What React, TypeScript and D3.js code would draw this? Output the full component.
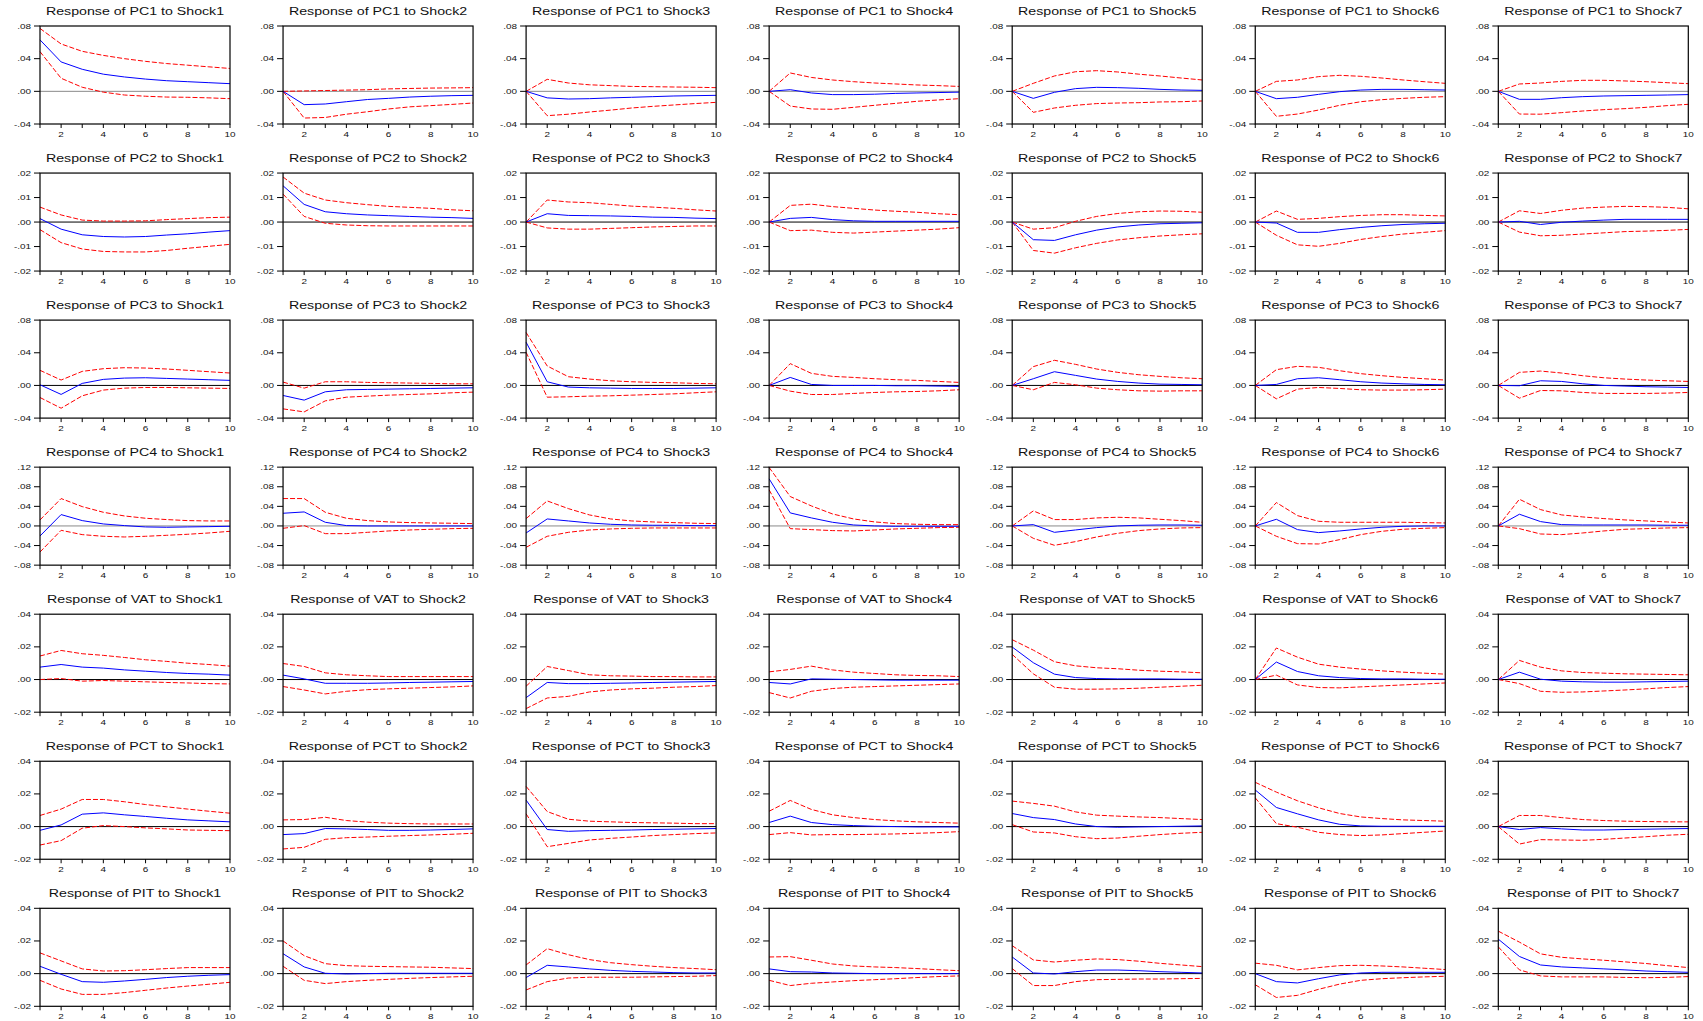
import React from "react";
import * as d3 from "d3";

// impulse responses, 7 shocks x 10 periods each
const PERIODS = [1, 2, 3, 4, 5, 6, 7, 8, 9, 10];
const VARIABLES = ["PC1", "PC2", "PC3", "PC4", "VAT", "PCT", "PIT"];
const SHOCKS = ["Shock1", "Shock2", "Shock3", "Shock4", "Shock5", "Shock6", "Shock7"];

const PC1_IRF = [
  [0.063, 0.036, 0.027, 0.021, 0.0176, 0.015, 0.013, 0.0118, 0.0106, 0.0094],
  [0, -0.0163, -0.0155, -0.0127, -0.01, -0.0086, -0.007, -0.006, -0.0053, -0.0049],
  [0, -0.008, -0.0094, -0.009, -0.008, -0.0073, -0.0065, -0.0057, -0.0053, -0.0049],
  [0, 0.002, -0.002, -0.004, -0.004, -0.0035, -0.0025, -0.002, -0.0015, -0.001],
  [0, -0.0086, -0.0012, 0.0033, 0.0049, 0.0045, 0.0037, 0.0024, 0.0016, 0.0012],
  [0, -0.009, -0.0073, -0.0037, -0.0004, 0.0016, 0.0024, 0.0024, 0.002, 0.0016],
  [0, -0.0098, -0.0098, -0.0078, -0.0065, -0.0057, -0.0053, -0.0049, -0.0045, -0.004],
];
const PC1_UP = [
  [0.077, 0.058, 0.049, 0.044, 0.04, 0.0367, 0.034, 0.032, 0.03, 0.028],
  [0, 0.0005, 0.001, 0.0015, 0.002, 0.003, 0.0035, 0.004, 0.0042, 0.0045],
  [0, 0.0147, 0.0102, 0.008, 0.007, 0.006, 0.0057, 0.0053, 0.005, 0.0045],
  [0, 0.0225, 0.017, 0.0139, 0.0118, 0.0102, 0.009, 0.0078, 0.007, 0.006],
  [0, 0.0098, 0.0188, 0.024, 0.0253, 0.0237, 0.021, 0.0188, 0.0163, 0.0139],
  [0, 0.0122, 0.0139, 0.018, 0.0196, 0.0184, 0.0163, 0.0139, 0.0118, 0.0098],
  [0, 0.009, 0.0102, 0.0122, 0.0135, 0.0135, 0.0127, 0.0118, 0.0106, 0.0094],
];
const PC1_LO = [
  [0.0486, 0.016, 0.005, -0.001, -0.0045, -0.006, -0.007, -0.0073, -0.008, -0.009],
  [0, -0.0327, -0.032, -0.028, -0.025, -0.0216, -0.019, -0.0175, -0.016, -0.0143],
  [0, -0.0298, -0.028, -0.0253, -0.023, -0.0204, -0.0184, -0.0167, -0.015, -0.0135],
  [0, -0.018, -0.0216, -0.022, -0.0196, -0.0171, -0.0147, -0.0122, -0.0106, -0.009],
  [0, -0.0257, -0.0204, -0.0171, -0.015, -0.0143, -0.0139, -0.013, -0.0127, -0.0118],
  [0, -0.0306, -0.0278, -0.0229, -0.0171, -0.0127, -0.0102, -0.0086, -0.0073, -0.0065],
  [0, -0.0278, -0.028, -0.0261, -0.0241, -0.0224, -0.0212, -0.0196, -0.0175, -0.0159],
];

const PC2_IRF = [
  [0.0014, -0.0029, -0.0052, -0.0059, -0.0061, -0.0059, -0.0053, -0.0048, -0.0041, -0.0035],
  [0.0148, 0.0072, 0.0042, 0.0034, 0.0029, 0.0026, 0.0023, 0.002, 0.0018, 0.0015],
  [0, 0.0034, 0.0027, 0.0026, 0.0025, 0.0023, 0.002, 0.0019, 0.0016, 0.0014],
  [0, 0.0015, 0.0019, 0.001, 0.0005, 0.0003, 0.0003, 0.0003, 0.0003, 0.0003],
  [0, -0.0072, -0.0075, -0.0052, -0.0033, -0.002, -0.0012, -0.0007, -0.0005, -0.0003],
  [0, -0.0004, -0.0042, -0.0042, -0.0031, -0.0022, -0.0015, -0.001, -0.0007, -0.0005],
  [0, 0.0003, -0.001, -0.0001, 0.0004, 0.0008, 0.0011, 0.0011, 0.0011, 0.0011],
];
const PC2_UP = [
  [0.0061, 0.0029, 0.0008, 0.0004, 0.0004, 0.0005, 0.001, 0.0014, 0.0018, 0.002],
  [0.0184, 0.0118, 0.009, 0.0079, 0.0071, 0.0064, 0.006, 0.0056, 0.005, 0.0046],
  [0, 0.009, 0.0082, 0.0079, 0.0072, 0.0065, 0.0061, 0.0056, 0.005, 0.0045],
  [0, 0.0068, 0.0073, 0.0063, 0.0056, 0.0049, 0.0044, 0.004, 0.0034, 0.003],
  [0, -0.0029, -0.0023, 0.0003, 0.0023, 0.0035, 0.0042, 0.0045, 0.0044, 0.004],
  [0, 0.0045, 0.0011, 0.0015, 0.0022, 0.0027, 0.003, 0.003, 0.0027, 0.0025],
  [0, 0.0046, 0.0035, 0.0048, 0.0057, 0.0061, 0.0064, 0.0063, 0.006, 0.0054],
];
const PC2_LO = [
  [-0.0031, -0.0084, -0.011, -0.012, -0.0122, -0.0122, -0.0116, -0.0107, -0.0099, -0.0091],
  [0.0114, 0.0023, -0.0005, -0.0012, -0.0015, -0.0016, -0.0016, -0.0016, -0.0016, -0.0016],
  [0, -0.0024, -0.0029, -0.0029, -0.0026, -0.0023, -0.002, -0.0018, -0.0016, -0.0016],
  [0, -0.0035, -0.0033, -0.0042, -0.0045, -0.0041, -0.0037, -0.0033, -0.0029, -0.0023],
  [0, -0.0116, -0.0127, -0.0105, -0.0087, -0.0073, -0.0064, -0.0057, -0.0052, -0.0048],
  [0, -0.0054, -0.0093, -0.0099, -0.0087, -0.0071, -0.0059, -0.0049, -0.0042, -0.0035],
  [0, -0.0041, -0.0056, -0.0054, -0.0049, -0.0044, -0.0039, -0.0037, -0.0034, -0.003],
];

const PC3_IRF = [
  [0.0008, -0.011, 0.0025, 0.0074, 0.009, 0.0094, 0.0086, 0.0078, 0.007, 0.0062],
  [-0.0123, -0.018, -0.0078, -0.0053, -0.0049, -0.0045, -0.0041, -0.0037, -0.0033, -0.0029],
  [0.0529, 0.0045, -0.002, -0.0029, -0.0033, -0.0037, -0.0037, -0.0037, -0.0033, -0.0029],
  [0, 0.0098, 0.0012, 0, 0, 0, -0.0004, -0.0004, -0.0008, -0.0012],
  [0, 0.0082, 0.0168, 0.0123, 0.0078, 0.0049, 0.0029, 0.0016, 0.0012, 0.0008],
  [0, 0.0012, 0.0082, 0.0094, 0.007, 0.0045, 0.0029, 0.002, 0.0012, 0.0008],
  [0, -0.0004, 0.0057, 0.0049, 0.002, 0, -0.0008, -0.0016, -0.002, -0.0025],
];
const PC3_UP = [
  [0.0185, 0.0066, 0.0172, 0.0205, 0.0217, 0.0213, 0.0201, 0.0185, 0.0168, 0.0152],
  [0.0041, -0.0033, 0.0045, 0.0045, 0.0037, 0.0033, 0.0029, 0.0025, 0.002, 0.002],
  [0.0648, 0.0238, 0.0107, 0.0078, 0.0057, 0.0045, 0.0037, 0.0033, 0.0025, 0.002],
  [0, 0.0267, 0.0148, 0.0111, 0.0098, 0.0082, 0.007, 0.0062, 0.0049, 0.0037],
  [0, 0.023, 0.0308, 0.0258, 0.0201, 0.016, 0.0131, 0.0111, 0.0094, 0.0082],
  [0, 0.0193, 0.0234, 0.0222, 0.018, 0.0144, 0.0119, 0.0098, 0.0082, 0.0066],
  [0, 0.016, 0.0176, 0.0152, 0.0119, 0.0094, 0.0078, 0.0066, 0.0057, 0.0049],
];
const PC3_LO = [
  [-0.0148, -0.0279, -0.0127, -0.0057, -0.0033, -0.0025, -0.0025, -0.0029, -0.0033, -0.0037],
  [-0.0287, -0.0324, -0.0189, -0.0144, -0.0131, -0.0119, -0.0111, -0.0103, -0.009, -0.0082],
  [0.0406, -0.0144, -0.0139, -0.0131, -0.0127, -0.0119, -0.0111, -0.0103, -0.009, -0.0078],
  [0, -0.007, -0.0111, -0.0111, -0.0098, -0.0086, -0.0078, -0.0074, -0.0066, -0.0053],
  [0, -0.0053, 0.0037, 0.0008, -0.0033, -0.0053, -0.0066, -0.007, -0.0066, -0.0066],
  [0, -0.0164, -0.0045, -0.0025, -0.0037, -0.0053, -0.0057, -0.0057, -0.0053, -0.0045],
  [0, -0.0156, -0.0062, -0.0066, -0.0086, -0.0098, -0.0098, -0.0098, -0.0094, -0.0086],
];

const PC4_IRF = [
  [-0.0205, 0.0232, 0.0109, 0.0041, 0.0007, -0.002, -0.0027, -0.002, -0.0014, -0.0007],
  [0.0259, 0.0286, 0.0075, 0.0007, 0, 0, 0, 0, 0, 0],
  [-0.0143, 0.0143, 0.0102, 0.0061, 0.0034, 0.002, 0.0014, 0.0014, 0.0007, 0.0007],
  [0.0961, 0.0266, 0.0164, 0.0075, 0.002, 0, -0.0007, -0.0007, -0.0007, -0.0007],
  [0, 0.0027, -0.013, -0.0082, -0.0034, 0, 0.0014, 0.002, 0.002, 0.0014],
  [0, 0.0136, -0.0075, -0.0136, -0.0102, -0.0061, -0.0027, -0.0007, 0, 0],
  [0, 0.0239, 0.0089, 0.0027, 0.002, 0.002, 0.002, 0.002, 0.0014, 0.0014],
];
const PC4_UP = [
  [0.0123, 0.0559, 0.0395, 0.0279, 0.0204, 0.0157, 0.013, 0.0109, 0.0102, 0.0102],
  [0.0559, 0.0559, 0.0279, 0.0157, 0.0109, 0.0082, 0.0068, 0.0061, 0.0055, 0.0048],
  [0.015, 0.0511, 0.0354, 0.0225, 0.0143, 0.0102, 0.0082, 0.0068, 0.0055, 0.0048],
  [0.1193, 0.06, 0.0409, 0.0245, 0.0143, 0.0082, 0.0048, 0.0034, 0.0027, 0.0027],
  [0, 0.0307, 0.013, 0.013, 0.0164, 0.0177, 0.0164, 0.0136, 0.0109, 0.0075],
  [0, 0.0477, 0.0211, 0.0095, 0.0075, 0.0075, 0.0075, 0.0075, 0.0068, 0.0061],
  [0, 0.0545, 0.0334, 0.0225, 0.0184, 0.015, 0.0123, 0.0102, 0.0082, 0.0061],
];
const PC4_LO = [
  [-0.0532, -0.0089, -0.0177, -0.0211, -0.0225, -0.0211, -0.0191, -0.017, -0.0143, -0.0109],
  [-0.0048, 0.0007, -0.0157, -0.0157, -0.013, -0.0102, -0.0082, -0.0068, -0.0055, -0.0048],
  [-0.0436, -0.0211, -0.013, -0.0082, -0.0061, -0.0048, -0.0041, -0.0041, -0.0041, -0.0041],
  [0.0736, -0.0055, -0.0075, -0.0095, -0.0102, -0.0082, -0.0061, -0.0048, -0.0034, -0.0027],
  [0, -0.0252, -0.0395, -0.032, -0.0225, -0.015, -0.0095, -0.0061, -0.0041, -0.0034],
  [0, -0.0211, -0.0361, -0.0368, -0.0279, -0.0177, -0.0109, -0.0068, -0.0048, -0.0034],
  [0, -0.0055, -0.0164, -0.0177, -0.0143, -0.0102, -0.0068, -0.0055, -0.0041, -0.0034],
];

const VAT_IRF = [
  [0.0076, 0.0092, 0.0076, 0.007, 0.0059, 0.0051, 0.0043, 0.0037, 0.0033, 0.0027],
  [0.0027, 0.0004, -0.0023, -0.0023, -0.0023, -0.0021, -0.0018, -0.0016, -0.0014, -0.0012],
  [-0.0111, -0.0018, -0.0025, -0.0025, -0.0023, -0.0021, -0.0018, -0.0016, -0.0014, -0.0012],
  [-0.0018, -0.0027, 0.0004, 0.0002, 0, -0.0002, -0.0004, -0.0004, -0.0004, -0.0004],
  [0.0199, 0.0103, 0.0033, 0.0012, 0.0006, 0.0004, 0.0004, 0.0004, 0.0002, 0.0002],
  [0, 0.0107, 0.0049, 0.0023, 0.0012, 0.0006, 0.0004, 0.0004, 0.0002, 0.0002],
  [0, 0.0045, 0.0002, -0.001, -0.0014, -0.0016, -0.0016, -0.0014, -0.0012, -0.001],
];
const VAT_UP = [
  [0.0144, 0.0178, 0.0158, 0.0148, 0.0135, 0.0121, 0.0111, 0.01, 0.0092, 0.0082],
  [0.0098, 0.008, 0.0041, 0.0029, 0.0023, 0.0018, 0.0018, 0.0018, 0.0018, 0.0018],
  [-0.0041, 0.008, 0.0055, 0.0029, 0.0023, 0.0021, 0.0018, 0.0018, 0.0016, 0.0016],
  [0.0047, 0.0062, 0.0082, 0.0059, 0.0045, 0.0037, 0.0029, 0.0025, 0.0023, 0.0018],
  [0.0244, 0.018, 0.0109, 0.0084, 0.0072, 0.0066, 0.0057, 0.0051, 0.0047, 0.0041],
  [0, 0.0193, 0.0137, 0.0094, 0.0076, 0.0064, 0.0053, 0.0045, 0.0039, 0.0033],
  [0, 0.0117, 0.0076, 0.0053, 0.0043, 0.0039, 0.0035, 0.0033, 0.0031, 0.0029],
];
const VAT_LO = [
  [0, 0.0006, -0.001, -0.0006, -0.001, -0.0014, -0.0018, -0.0021, -0.0025, -0.0027],
  [-0.0043, -0.0064, -0.0088, -0.0072, -0.0062, -0.0057, -0.0053, -0.0049, -0.0045, -0.0039],
  [-0.0178, -0.0113, -0.0103, -0.0076, -0.0064, -0.0057, -0.0053, -0.0047, -0.0043, -0.0037],
  [-0.008, -0.0113, -0.0072, -0.0055, -0.0047, -0.0043, -0.0039, -0.0035, -0.0031, -0.0027],
  [0.0154, 0.0035, -0.0047, -0.0059, -0.0059, -0.0057, -0.0053, -0.0047, -0.0041, -0.0035],
  [0, 0.0027, -0.0033, -0.0049, -0.0051, -0.0045, -0.0039, -0.0033, -0.0027, -0.0021],
  [0, -0.0025, -0.0072, -0.0078, -0.0076, -0.007, -0.0064, -0.0057, -0.0049, -0.0043],
];

const PCT_IRF = [
  [-0.0023, 0.001, 0.0076, 0.0084, 0.0072, 0.0062, 0.0051, 0.0041, 0.0035, 0.0029],
  [-0.0049, -0.0043, -0.0012, -0.0014, -0.0018, -0.0023, -0.0023, -0.0021, -0.0018, -0.0014],
  [0.0162, -0.0018, -0.0029, -0.0025, -0.0023, -0.0021, -0.0018, -0.0016, -0.0014, -0.0012],
  [0.0025, 0.0064, 0.0025, 0.0012, 0.0006, 0.0002, 0, -0.0002, -0.0002, -0.0002],
  [0.008, 0.0055, 0.0043, 0.0016, 0, -0.0004, -0.0002, 0, 0.0002, 0.0004],
  [0.0224, 0.0117, 0.0078, 0.0041, 0.0014, 0.0004, 0.0002, 0.0002, 0.0002, 0.0002],
  [0, -0.0018, -0.0006, -0.0014, -0.0021, -0.0021, -0.0018, -0.0016, -0.0014, -0.0012],
];
const PCT_UP = [
  [0.0068, 0.0107, 0.0166, 0.0166, 0.0152, 0.0135, 0.0121, 0.0107, 0.0094, 0.0082],
  [0.0041, 0.0043, 0.0057, 0.0037, 0.0027, 0.0021, 0.0018, 0.0016, 0.0016, 0.0016],
  [0.0246, 0.0092, 0.0045, 0.0033, 0.0029, 0.0025, 0.0023, 0.0021, 0.0018, 0.0018],
  [0.0094, 0.016, 0.0105, 0.0072, 0.0055, 0.0043, 0.0035, 0.0029, 0.0025, 0.0021],
  [0.0156, 0.0142, 0.0125, 0.009, 0.007, 0.0064, 0.0059, 0.0055, 0.0049, 0.0043],
  [0.0271, 0.0211, 0.0158, 0.0115, 0.008, 0.0059, 0.0049, 0.0041, 0.0037, 0.0033],
  [0, 0.0068, 0.0068, 0.0055, 0.0043, 0.0037, 0.0033, 0.0031, 0.0029, 0.0029],
];
const PCT_LO = [
  [-0.0113, -0.0086, -0.001, 0.0006, 0, -0.0008, -0.0014, -0.0021, -0.0023, -0.0025],
  [-0.0137, -0.0127, -0.0078, -0.0068, -0.0064, -0.0059, -0.0055, -0.0051, -0.0047, -0.0041],
  [0.0078, -0.0123, -0.0103, -0.0082, -0.0072, -0.0064, -0.0055, -0.0049, -0.0043, -0.0039],
  [-0.0049, -0.0037, -0.0051, -0.0049, -0.0049, -0.0047, -0.0045, -0.0041, -0.0037, -0.0031],
  [0.0012, -0.0033, -0.0039, -0.0062, -0.0074, -0.007, -0.0059, -0.0049, -0.0041, -0.0035],
  [0.0176, 0.0018, -0.0004, -0.0035, -0.0049, -0.0055, -0.0051, -0.0043, -0.0035, -0.0027],
  [0, -0.0107, -0.008, -0.0082, -0.0084, -0.0078, -0.007, -0.0062, -0.0053, -0.0047],
];

const PIT_IRF = [
  [0.0045, -0.0004, -0.0049, -0.0053, -0.0045, -0.0035, -0.0024, -0.0016, -0.001, -0.0006],
  [0.0122, 0.0041, 0.0002, -0.0002, 0, 0.0002, 0.0002, 0.0002, 0.0002, 0.0002],
  [-0.0024, 0.0051, 0.0041, 0.0029, 0.002, 0.0014, 0.001, 0.0006, 0.0004, 0.0004],
  [0.0029, 0.0012, 0.001, 0.0004, 0.0002, 0, 0, 0, 0, 0],
  [0.0102, 0.0004, -0.0002, 0.0012, 0.0022, 0.0022, 0.0018, 0.0012, 0.0008, 0.0004],
  [0, -0.0049, -0.0057, -0.0031, -0.0008, 0.0004, 0.0008, 0.0008, 0.0008, 0.0008],
  [0.0211, 0.0105, 0.0053, 0.0041, 0.0035, 0.0029, 0.0023, 0.0016, 0.0012, 0.0008],
];
const PIT_UP = [
  [0.0127, 0.0078, 0.0029, 0.0016, 0.0018, 0.0024, 0.0031, 0.0037, 0.0037, 0.0037],
  [0.02, 0.011, 0.0061, 0.0049, 0.0045, 0.0043, 0.0041, 0.0039, 0.0035, 0.0031],
  [0.0053, 0.0153, 0.0116, 0.0086, 0.0067, 0.0055, 0.0045, 0.0037, 0.0031, 0.0024],
  [0.0102, 0.0104, 0.0082, 0.0059, 0.0047, 0.0041, 0.0037, 0.0031, 0.0024, 0.0018],
  [0.0171, 0.0084, 0.0071, 0.0082, 0.009, 0.0086, 0.0076, 0.0063, 0.0053, 0.0043],
  [0.0064, 0.0051, 0.0023, 0.0037, 0.0049, 0.0051, 0.0047, 0.0041, 0.0033, 0.0025],
  [0.026, 0.0193, 0.0121, 0.01, 0.009, 0.0082, 0.0072, 0.0062, 0.0049, 0.0037],
];
const PIT_LO = [
  [-0.0041, -0.0094, -0.0127, -0.0127, -0.0116, -0.0102, -0.0088, -0.0076, -0.0065, -0.0053],
  [0.0045, -0.0041, -0.0061, -0.0049, -0.0041, -0.0035, -0.0029, -0.0024, -0.002, -0.0016],
  [-0.01, -0.0049, -0.0027, -0.0022, -0.0022, -0.0022, -0.002, -0.0018, -0.0016, -0.0012],
  [-0.0041, -0.0073, -0.0059, -0.0051, -0.0043, -0.0037, -0.0031, -0.0024, -0.0018, -0.0014],
  [0.0031, -0.0073, -0.0073, -0.0049, -0.0037, -0.0035, -0.0033, -0.0033, -0.0031, -0.0029],
  [-0.0068, -0.0146, -0.0133, -0.0096, -0.0064, -0.0041, -0.0031, -0.0025, -0.002, -0.0016],
  [0.0164, 0.0023, -0.0014, -0.002, -0.002, -0.002, -0.0023, -0.0025, -0.0023, -0.0018],
];

// y axis ticks for each response variable
const TICKS_PC1 = [-0.04, 0, 0.04, 0.08];
const TICKS_PC2 = [-0.02, -0.01, 0, 0.01, 0.02];
const TICKS_PC3 = [-0.04, 0, 0.04, 0.08];
const TICKS_PC4 = [-0.08, -0.04, 0, 0.04, 0.08, 0.12];
const TICKS_TAX = [-0.02, 0, 0.02, 0.04];
const X_LABELS = [2, 4, 6, 8, 10];

const IRF = [PC1_IRF, PC2_IRF, PC3_IRF, PC4_IRF, VAT_IRF, PCT_IRF, PIT_IRF];
const UP = [PC1_UP, PC2_UP, PC3_UP, PC4_UP, VAT_UP, PCT_UP, PIT_UP];
const LO = [PC1_LO, PC2_LO, PC3_LO, PC4_LO, VAT_LO, PCT_LO, PIT_LO];
const TICKS = [TICKS_PC1, TICKS_PC2, TICKS_PC3, TICKS_PC4, TICKS_TAX, TICKS_TAX, TICKS_TAX];
const ZERO_COLOR = ["#8a8a8a", "#000", "#000", "#8a8a8a", "#000", "#000", "#000"];

const W = 1703;
const H = 1021;
const LEFT = 40;
const TOP = 26;
const COL_STEP = 243.05;
const ROW_STEP = 147.05;
const PW = 190;
const PH = 98;
const FONT = "'Liberation Sans', Arial, Helvetica, sans-serif";
const STRETCH = 1.42;

const fmtTick = (v: number) => {
  const s = v.toFixed(2);
  return s.replace("0.", ".");
};

function Panel({ row, col }: { row: number; col: number }) {
  const x0 = LEFT + col * COL_STEP;
  const y0 = TOP + row * ROW_STEP;
  const ticks = TICKS[row];

  const x = d3.scaleLinear().domain([1, 10]).range([0, PW]);
  const y = d3
    .scaleLinear()
    .domain([ticks[0], ticks[ticks.length - 1]])
    .range([PH, 0]);

  const line = d3
    .line<number>()
    .x((_, i) => x(PERIODS[i]))
    .y((d) => y(d));

  const title = `Response of ${VARIABLES[row]} to ${SHOCKS[col]}`;

  return (
    <g transform={`translate(${x0},${y0})`}>
      <text
        transform={`translate(${PW / 2},-11.5) scale(${STRETCH},1)`}
        textAnchor="middle"
        fontSize={10}
        fontFamily={FONT}
        fill="#111"
      >
        {title}
      </text>

      {/* zero line */}
      <line x1={0} x2={PW} y1={y(0)} y2={y(0)} stroke={ZERO_COLOR[row]} strokeWidth={1} />

      <path d={line(UP[row][col]) || ""} fill="none" stroke="#ff0000" strokeWidth={1} strokeDasharray="5,2" />
      <path d={line(LO[row][col]) || ""} fill="none" stroke="#ff0000" strokeWidth={1} strokeDasharray="5,2" />
      <path d={line(IRF[row][col]) || ""} fill="none" stroke="#0000ff" strokeWidth={1} />

      <rect x={0} y={0} width={PW} height={PH} fill="none" stroke="#000" strokeWidth={1.2} />

      {/* y axis */}
      {ticks.map((t) => (
        <g key={t}>
          <line x1={-6} x2={0} y1={y(t)} y2={y(t)} stroke="#000" strokeWidth={1} />
          <text
            transform={`translate(-9,${y(t) + 2.5}) scale(${STRETCH},1)`}
            textAnchor="end"
            fontSize={7}
            fontFamily={FONT}
            fill="#111"
          >
            {fmtTick(t)}
          </text>
        </g>
      ))}

      {/* x axis */}
      {PERIODS.map((p) => (
        <line key={p} x1={x(p)} x2={x(p)} y1={PH} y2={PH + 4} stroke="#000" strokeWidth={1} />
      ))}
      {X_LABELS.map((p) => (
        <text
          key={p}
          transform={`translate(${x(p)},${PH + 13}) scale(${STRETCH},1)`}
          textAnchor="middle"
          fontSize={7}
          fontFamily={FONT}
          fill="#111"
        >
          {p}
        </text>
      ))}
    </g>
  );
}

export default function App() {
  return (
    <svg
      width={W}
      height={H}
      style={{ position: "absolute", left: 0, top: 0, background: "#fff" }}
    >
      <rect width={W} height={H} fill="#fff" />
      {VARIABLES.map((_, r) =>
        SHOCKS.map((_, c) => <Panel key={`${r}-${c}`} row={r} col={c} />)
      )}
    </svg>
  );
}
